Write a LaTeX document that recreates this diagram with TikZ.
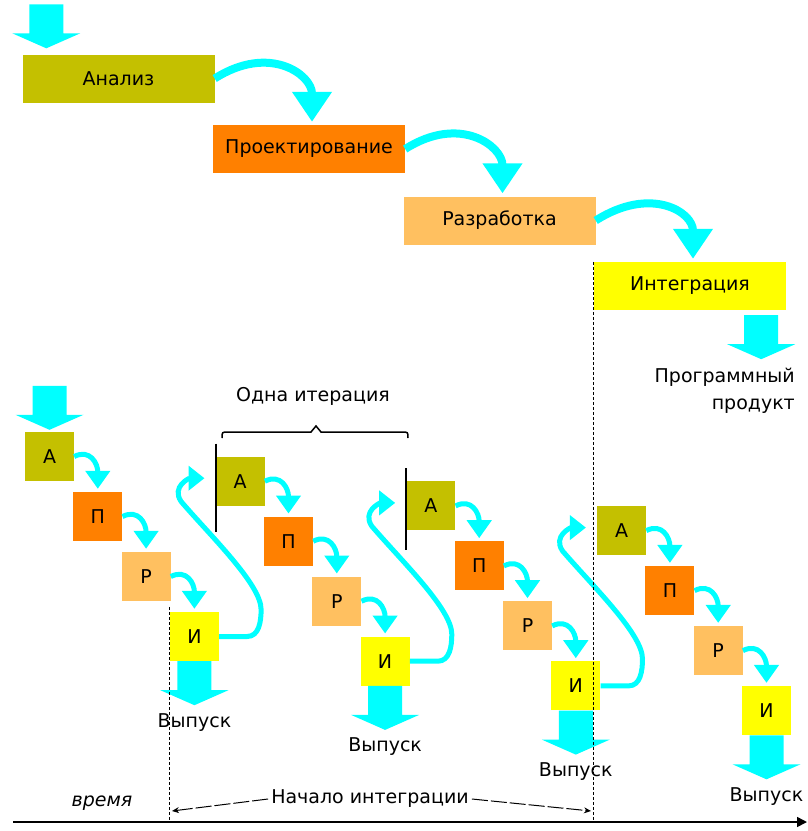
\documentclass[tikz,border=0pt]{standalone}
\usepackage{fontspec}
\setmainfont{DejaVu Sans}
\usetikzlibrary{arrows.meta,calc}
\definecolor{colA}{RGB}{196,192,0}
\definecolor{colP}{RGB}{255,128,0}
\definecolor{colR}{RGB}{255,192,96}
\definecolor{colI}{RGB}{255,255,0}
\definecolor{acyan}{RGB}{0,255,255}
\begin{document}
\begin{tikzpicture}[x=1pt,y=-1pt,
  lbl/.style={font=\fontsize{19}{27}\selectfont, inner sep=0pt},
  bigbox/.style={lbl, minimum width=192pt, minimum height=48pt},
  sbox/.style={lbl, minimum width=49pt, minimum height=49pt},
  bigcurve/.style={color=acyan, line width=8pt, -{Triangle[width=38pt,length=30pt]}, shorten >=3pt},
  smallcurve/.style={color=acyan, line width=5pt, -{Triangle[width=24pt,length=18pt]}, shorten >=3pt},
  scurve/.style={color=acyan, line width=5pt, -{Triangle[width=24pt,length=16pt]}},
  dotline/.style={black, line width=1.2pt, dash pattern=on 3pt off 2pt},
  dashline/.style={black, line width=1pt, dash pattern=on 16pt off 3pt, -{Stealth[length=7pt,width=6pt]}},
  blockarrow/.pic={\fill[acyan] (-17,0) -- (17,0) -- (17,29) -- (34,29) -- (0,44) -- (-34,29) -- (-17,29) -- cycle;}
]
\useasboundingbox (0,0) rectangle (807,831);

% ---------- top (waterfall) ----------
\node[bigbox, fill=colA] (an) at (118.5,78.5) {Анализ};
\node[bigbox, fill=colP] (pr) at (309,149) {Проектирование};
\node[bigbox, fill=colR] (ra) at (499.5,220.5) {Разработка};
\node[bigbox, fill=colI] (in) at (690,286) {Интеграция};
\node[lbl, align=right, anchor=east] (pp) at (795,391) {Программный\\продукт};

\pic at ($(an.north west)+(24,-50)$) {blockarrow};
\pic at ($(in.south east)+(-25,5)$) {blockarrow};

\draw[bigcurve] (an.east) .. controls +(55,-35) and +(0,-50) .. ($(pr.north)+(3,0)$);
\draw[bigcurve] (pr.east) .. controls +(55,-35) and +(0,-50) .. ($(ra.north)+(3,0)$);
\draw[bigcurve] (ra.east) .. controls +(55,-35) and +(0,-50) .. ($(in.north)+(3,0)$);

% ---------- bottom (iterations) ----------
\foreach \i in {0,...,3} {
  \foreach \j/\t/\c in {0/А/colA,1/П/colP,2/Р/colR,3/И/colI} {
    \node[sbox, fill=\c] (s\i\j) at ({49.5+190.7*\i+48.3*\j},{456.5+24.7*\i+60*\j}) {\t};
  }
}
\pic at ($(s00.north)+(0,-46)$) {blockarrow};

\foreach \i in {0,...,3} {
  \foreach \j/\k in {0/1,1/2,2/3} {
    \draw[smallcurve] (s\i\j.east) .. controls +(16,-8) and +(0,-28) .. (s\i\k.north);
  }
  \pic at (s\i3.south) {blockarrow};
  \node[lbl] (v\i) at ($(s\i3.south)+(0,61)$) {Выпуск};
}

\foreach \i/\k in {0/1,1/2,2/3} {
  \draw[scurve] (s\i3.east) -- ++(28,0)
     .. controls +(12,0) and +(0,12) .. ++(14,-27)
     .. controls +(0,-25) and +(30,35) .. ++(-80,-108)
     .. controls +(-10,-15) and +(-15,0) .. ($(s\k0.west)+(-11,-3)$);
}

% bracket "one iteration"
\draw[black, line width=2pt] ($(s10.north west)+(0,-13)$) -- ($(s10.south west)+(0,26)$);
\draw[black, line width=2pt] ($(s20.north west)+(0,-13)$) -- ($(s20.south west)+(0,19)$);
\draw[black, line width=1.5pt] (222,438) .. controls (222,432) .. (228,432) -- (311,432)
   -- (316,426) -- (321,432) -- (402,432) .. controls (408,432) .. (408,438);
\node[lbl] (odna) at (313,396) {Одна итерация};

% time axis
\coordinate (ax0) at (13,822);
\coordinate (ax1) at (807,822);
\draw[black, line width=1.6pt, -{Triangle[width=10pt,length=10pt]}] (ax0) -- (ax1);
\node[lbl, font=\fontsize{19}{22}\selectfont\itshape] (vr) at (102,803) {время};

% dotted lines
\draw[dotline] ($(s03.north west)+(0,-5)$) -- (s03.west |- ax0);
\draw[dotline] (in.north west) -- (in.west |- ax0);

% start of integration
\node[lbl, fill=white, inner xsep=3pt] (nach) at (370,799) {Начало интеграции};
\coordinate (d1) at (172,811);
\coordinate (d2) at (591,811);
\draw[dashline] (nach.west) -- (d1);
\draw[dashline] (nach.east) -- (d2);
\end{tikzpicture}
\end{document}
